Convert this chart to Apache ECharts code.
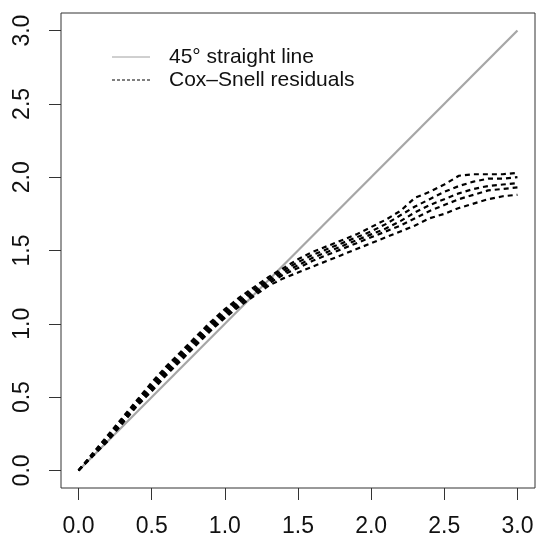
<!DOCTYPE html>
<html>
<head>
<meta charset="utf-8">
<script src="https://cdn.jsdelivr.net/npm/echarts@6/dist/echarts.min.js"></script>
<style>
  html, body { margin: 0; padding: 0; background: #fff; }
  #chart { width: 550px; height: 547px; }
</style>
</head>
<body>
<div id="chart"></div>
<script>
// residual grid (x) and estimated cumulative hazard curves (y)
const xs = [0, 0.1, 0.2, 0.3, 0.4, 0.5, 0.6, 0.7, 0.8, 0.9, 1.0, 1.1, 1.2, 1.3, 1.4, 1.5,
  1.6, 1.7, 1.8, 1.9, 2.0, 2.1, 2.2, 2.3, 2.4, 2.5, 2.6, 2.7, 2.8, 2.9, 3.0];
const upper = [0, 0.12, 0.24, 0.36, 0.48, 0.60, 0.71, 0.81, 0.91, 1.01, 1.10, 1.18, 1.25, 1.32, 1.38, 1.44,
  1.49, 1.53, 1.57, 1.61, 1.66, 1.71, 1.77, 1.86, 1.90, 1.95, 2.01, 2.02, 2.02, 2.02, 2.03];
const upperMid = [0, 0.115, 0.23, 0.35, 0.47, 0.585, 0.695, 0.795, 0.895, 0.995, 1.085, 1.165, 1.235, 1.305, 1.365, 1.42,
  1.47, 1.51, 1.55, 1.59, 1.63, 1.68, 1.74, 1.80, 1.85, 1.90, 1.94, 1.97, 1.99, 1.99, 2.00];
const mid = [0, 0.11, 0.22, 0.34, 0.46, 0.57, 0.68, 0.78, 0.88, 0.98, 1.07, 1.15, 1.22, 1.29, 1.35, 1.40,
  1.45, 1.49, 1.53, 1.57, 1.61, 1.65, 1.70, 1.76, 1.81, 1.85, 1.89, 1.92, 1.94, 1.95, 1.96];
const lowerMid = [0, 0.105, 0.21, 0.33, 0.45, 0.555, 0.665, 0.765, 0.865, 0.965, 1.055, 1.135, 1.205, 1.275, 1.335, 1.38,
  1.43, 1.47, 1.51, 1.55, 1.59, 1.63, 1.67, 1.72, 1.77, 1.81, 1.85, 1.88, 1.91, 1.92, 1.93];
const lower = [0, 0.10, 0.20, 0.32, 0.44, 0.54, 0.65, 0.75, 0.85, 0.95, 1.04, 1.12, 1.19, 1.26, 1.31, 1.35,
  1.39, 1.43, 1.47, 1.51, 1.55, 1.59, 1.63, 1.67, 1.72, 1.75, 1.79, 1.82, 1.85, 1.87, 1.88];
const refX = [0, 3];
const refY = [0, 3];
const tickValues = [0, 0.5, 1, 1.5, 2, 2.5, 3];
const legendNames = ['45° straight line', 'Cox–Snell residuals'];

const FONT = '"Liberation Sans", Arial, sans-serif';
const pairs = (a, b) => a.map((v, i) => [v, b[i]]);

const residualSeries = [upper, upperMid, mid, lowerMid, lower].map(ys => ({
  name: legendNames[1],
  type: 'line',
  data: pairs(xs, ys),
  symbol: 'none',
  silent: true,
  z: 3,
  lineStyle: { color: '#000', width: 2.2, type: [5, 4] }
}));

const axisCommon = {
  type: 'value',
  min: -0.12,
  max: 3.12,
  axisLine: { show: false, onZero: false },
  splitLine: { show: false },
  axisTick: { show: true, inside: false, length: 12, customValues: tickValues,
    lineStyle: { color: '#333', width: 1 } },
  axisLabel: { customValues: tickValues, margin: 27, fontSize: 23, fontFamily: FONT, color: '#111',
    formatter: v => v.toFixed(1) }
};

// legend drawn like R's legend(): short line sample then label
const legendItem = (y, name, style) => [
  { type: 'line', shape: { x1: 112, y1: y, x2: 150, y2: y }, style: style, silent: true },
  { type: 'text', x: 169, y: y, silent: true,
    style: { text: name, font: '21px ' + FONT, fill: '#111', verticalAlign: 'middle' } }
];

const myChart = echarts.init(document.getElementById('chart'), null, { renderer: 'canvas' });
myChart.setOption({
  animation: false,
  backgroundColor: '#fff',
  grid: { left: 61, right: 15, top: 13, bottom: 59, show: true, borderColor: '#333', borderWidth: 1,
    backgroundColor: 'transparent' },
  xAxis: Object.assign({}, axisCommon),
  yAxis: Object.assign({}, axisCommon, {
    axisLabel: Object.assign({}, axisCommon.axisLabel, { rotate: 90 })
  }),
  graphic: legendItem(57, legendNames[0], { stroke: '#a0a0a0', lineWidth: 1 })
    .concat(legendItem(80, legendNames[1], { stroke: '#000', lineWidth: 1, lineDash: [3, 2] })),
  series: [{
    name: legendNames[0],
    type: 'line',
    data: pairs(refX, refY),
    symbol: 'none',
    silent: true,
    z: 2,
    lineStyle: { color: '#a6a6a6', width: 2.2 }
  }].concat(residualSeries)
});
</script>
</body>
</html>
